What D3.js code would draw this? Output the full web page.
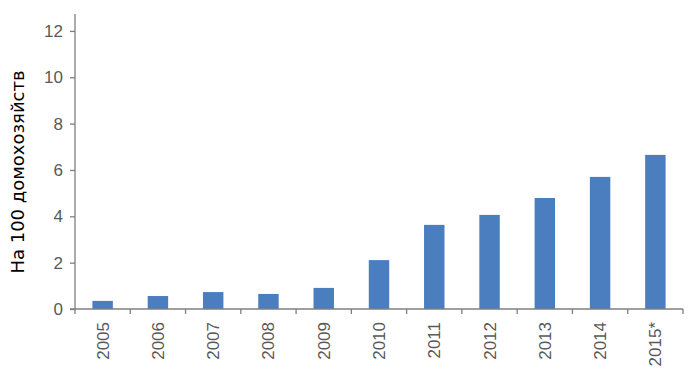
<!DOCTYPE html>
<html>
<head>
<meta charset="utf-8">
<script src="https://cdn.jsdelivr.net/npm/d3@7"></script>
<style>
  html, body { margin: 0; padding: 0; background: #fff; }
  svg { display: block; }
</style>
</head>
<body>
<svg id="chart" width="696" height="379"></svg>
<script>
const categories = ["2005", "2006", "2007", "2008", "2009", "2010", "2011", "2012", "2013", "2014", "2015*"];
const values = [0.35, 0.56, 0.73, 0.65, 0.91, 2.11, 3.63, 4.06, 4.79, 5.70, 6.65];
const yTicks = [0, 2, 4, 6, 8, 10, 12];
const yTitle = "На 100 домохозяйств";

const svg = d3.select("#chart");
const margin = {left: 75, right: 13, top: 14, bottom: 70};
const W = 696, H = 379;
const x0 = margin.left, x1 = W - margin.right;
const y0 = H - margin.bottom, y1 = margin.top;

const x = d3.scaleBand().domain(categories).range([x0, x1]).paddingInner(0.63).paddingOuter(0.315);
const xTickScale = d3.scaleBand().domain(categories).range([x0, x1]);
const y = d3.scaleLinear().domain([0, 12.73]).range([y0, y1]);

const font = "'Liberation Sans', Arial, sans-serif";

// bars
svg.append("g").selectAll("rect").data(values).join("rect")
  .attr("x", (d, i) => x(categories[i]))
  .attr("y", d => y(d))
  .attr("width", x.bandwidth())
  .attr("height", d => y(0) - y(d))
  .attr("fill", "#4a7ebf");

// y axis
const yAxis = svg.append("g").attr("transform", `translate(${x0},0)`)
  .call(d3.axisLeft(y).tickValues(yTicks).tickSize(5).tickPadding(7).tickFormat(d3.format("d")));
yAxis.select(".domain").attr("stroke", "#7f7f7f").attr("stroke-width", 1.3).attr("d", `M0,${y0}V${y1}`);
yAxis.selectAll(".tick line").attr("stroke", "#7f7f7f").attr("stroke-width", 1.3);
yAxis.selectAll(".tick text").attr("fill", "#595959").style("font-family", font).style("font-size", "17px");

// x axis
const xAxisG = svg.append("g").attr("transform", `translate(0,${y0})`);
xAxisG.append("line").attr("x1", x0 - 5).attr("x2", x1).attr("y1", 0).attr("y2", 0)
  .attr("stroke", "#7f7f7f").attr("stroke-width", 1.3);
const tickPos = categories.map(c => xTickScale(c)).concat([x1]);
xAxisG.selectAll("line.t").data(tickPos).join("line").attr("class", "t")
  .attr("x1", d => d).attr("x2", d => d).attr("y1", 0).attr("y2", 5)
  .attr("stroke", "#7f7f7f").attr("stroke-width", 1.3);
xAxisG.selectAll("text").data(categories).join("text")
  .attr("transform", d => `translate(${xTickScale(d) + xTickScale.bandwidth() / 2 + 6},13) rotate(-90)`)
  .attr("text-anchor", "end")
  .attr("fill", "#595959")
  .style("font-family", font).style("font-size", "17px")
  .text(d => d);

// y title
svg.append("text")
  .attr("transform", `translate(24,172) rotate(-90)`)
  .attr("text-anchor", "middle")
  .attr("fill", "#000")
  .style("font-family", "'DejaVu Sans', sans-serif").style("font-size", "18px")
  .text(yTitle);
</script>
</body>
</html>
